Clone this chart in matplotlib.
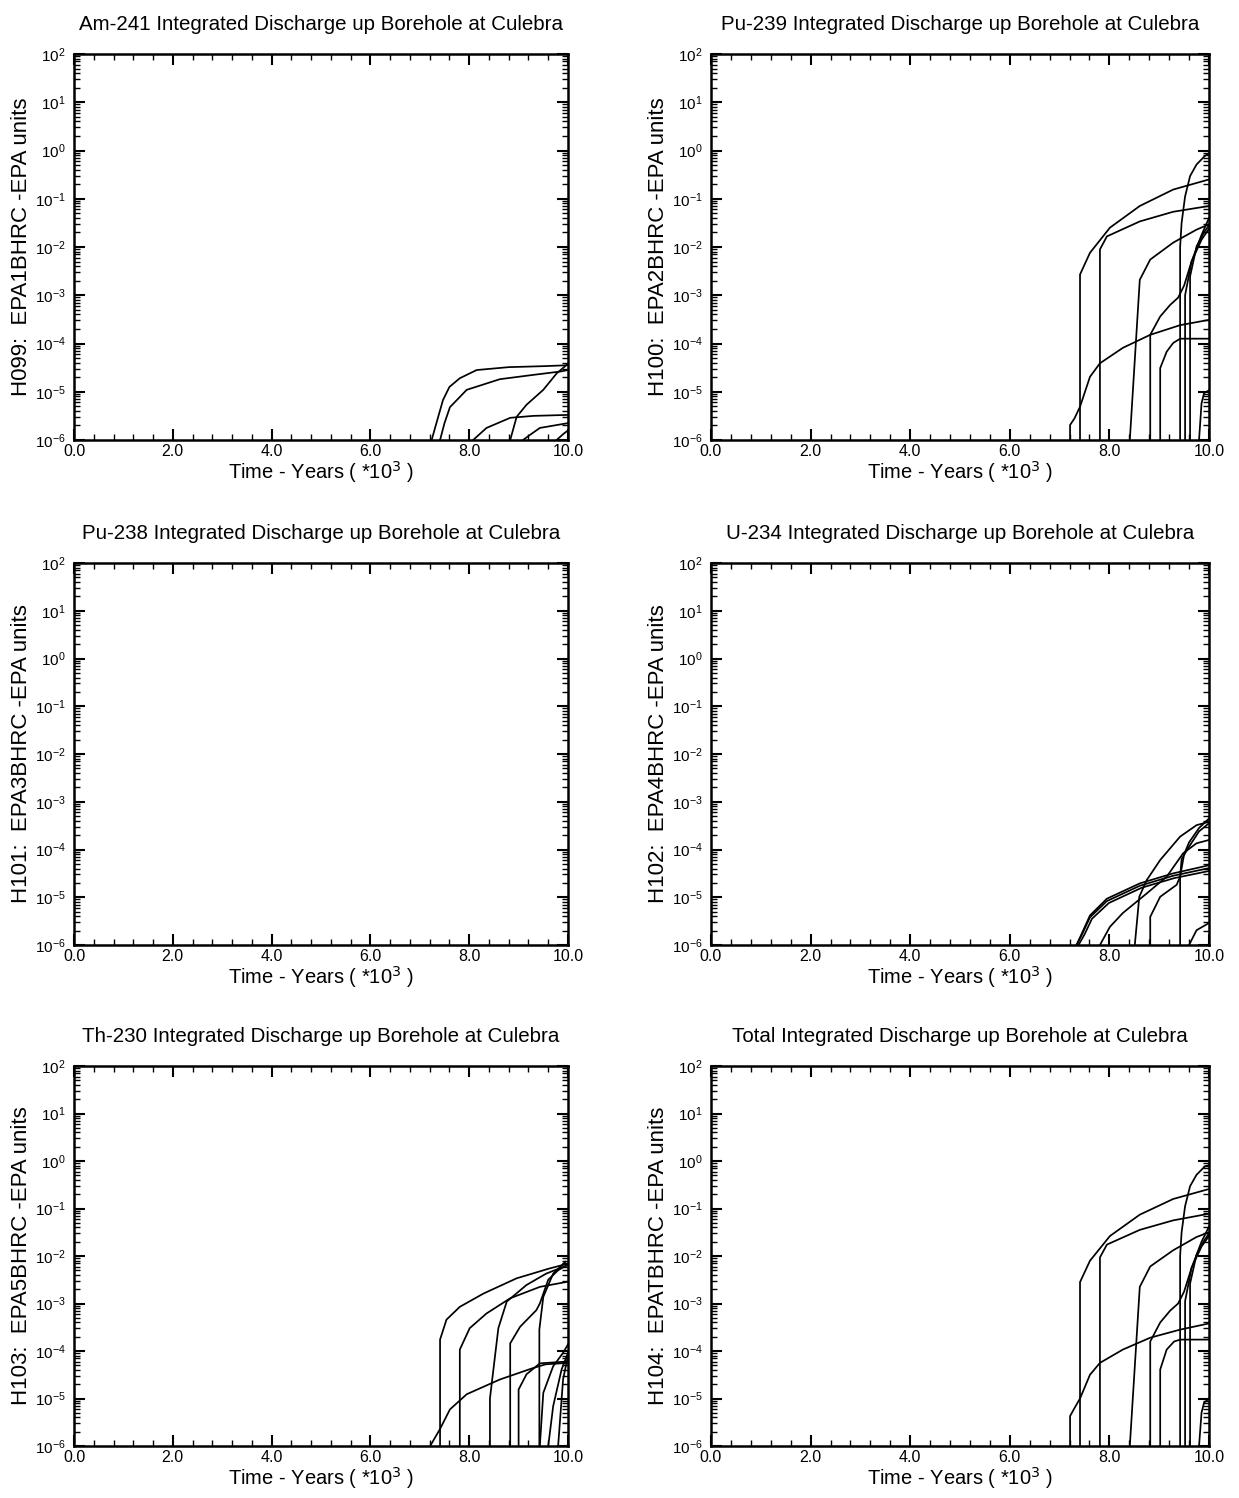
import numpy as np
import matplotlib
matplotlib.use("Agg")
import matplotlib.pyplot as plt
from matplotlib.ticker import MultipleLocator, LogLocator, FixedLocator, FixedFormatter, NullFormatter

plt.rcParams['font.family'] = ['Liberation Sans', 'DejaVu Sans']

# ---------------- data (time in 10^3 years, values as log10 of EPA units) ----------
am241_t = [
    [7.24, 7.35, 7.47, 7.6, 7.81, 8.15, 8.8, 9.5, 10.0],
    [7.41, 7.5, 7.61, 7.95, 8.62, 9.3, 9.85, 10.0],
    [8.83, 8.96, 9.16, 9.5, 9.77, 10.0],
    [8.08, 8.35, 8.83, 9.3, 10.0],
    [9.09, 9.25, 9.43, 10.0],
    [9.77, 9.9, 10.0],
]
am241_logy = [
    [-6, -5.6, -5.17, -4.9, -4.72, -4.55, -4.49, -4.47, -4.45],
    [-6, -5.65, -5.32, -4.96, -4.74, -4.65, -4.58, -4.55],
    [-6, -5.52, -5.27, -4.96, -4.62, -4.42],
    [-6, -5.75, -5.54, -5.5, -5.48],
    [-6, -5.88, -5.75, -5.65],
    [-6, -5.88, -5.8],
]

pu239_t = [
    [7.21, 7.21, 7.3, 7.41, 7.61, 7.81, 8.27, 8.82, 9.42, 10.0],
    [7.41, 7.41, 7.61, 8.01, 8.61, 9.28, 10.0],
    [7.81, 7.81, 7.95, 8.61, 9.28, 10.0],
    [8.41, 8.61, 8.82, 9.28, 9.75, 10.0],
    [8.82, 8.82, 9.02, 9.22, 9.38, 9.5, 9.65, 9.85, 10.0],
    [9.02, 9.02, 9.15, 9.28, 9.42, 10.0],
    [9.42, 9.42, 9.45, 9.52, 9.62, 9.75, 9.92, 10.0],
    [9.62, 9.62, 9.75, 9.9, 10.0],
    [9.52, 9.52, 9.65, 9.85, 10.0],
    [9.8, 9.85, 9.9, 10.0],
]
pu239_logy = [
    [-6, -5.69, -5.55, -5.31, -4.69, -4.41, -4.09, -3.82, -3.62, -3.51],
    [-6, -2.57, -2.12, -1.6, -1.15, -0.81, -0.6],
    [-6, -2.05, -1.78, -1.47, -1.27, -1.15],
    [-6, -2.68, -2.26, -1.91, -1.64, -1.53],
    [-6, -3.82, -3.44, -3.2, -3.05, -2.8, -2.3, -1.85, -1.62],
    [-6, -4.51, -4.17, -3.99, -3.9, -3.9],
    [-6, -2.0, -1.5, -0.95, -0.53, -0.29, -0.11, -0.06],
    [-6, -2.61, -1.99, -1.7, -1.55],
    [-6, -3.0, -2.3, -1.75, -1.4],
    [-6, -5.24, -5.03, -4.97],
]

pu238_t = []
pu238_logy = []

u234_t = [
    [7.34, 7.45, 7.61, 7.95, 8.61, 9.28, 10.0],
    [7.34, 7.45, 7.61, 7.95, 8.61, 9.28, 10.0],
    [7.38, 7.5, 7.65, 7.99, 8.65, 9.3, 10.0],
    [7.81, 8.01, 8.27, 8.75, 9.15, 9.48, 9.75, 10.0],
    [8.51, 8.6, 8.75, 9.02, 9.42, 9.75, 10.0],
    [8.82, 8.82, 9.02, 9.35, 9.42, 9.45, 9.6, 9.8, 10.0],
    [9.42, 9.42, 9.5, 9.6, 9.8, 10.0],
    [9.6, 9.75, 9.9, 10.0],
]
u234_logy = [
    [-6, -5.75, -5.38, -5.03, -4.71, -4.5, -4.33],
    [-6, -5.78, -5.42, -5.08, -4.76, -4.55, -4.39],
    [-6, -5.78, -5.45, -5.12, -4.8, -4.6, -4.45],
    [-6, -5.62, -5.33, -4.92, -4.57, -4.08, -3.87, -3.8],
    [-6, -4.99, -4.64, -4.22, -3.73, -3.49, -3.42],
    [-6, -5.41, -4.99, -4.74, -4.57, -4.2, -3.94, -3.62, -3.45],
    [-6, -4.57, -4.1, -3.85, -3.55, -3.35],
    [-6, -5.69, -5.6, -5.54],
]

th230_t = [
    [7.21, 7.41, 7.61, 7.95, 8.62, 9.29, 9.55, 10.0],
    [7.41, 7.41, 7.54, 7.81, 8.29, 8.96, 9.6, 10.0],
    [7.81, 7.81, 8.01, 8.35, 8.83, 9.43, 10.0],
    [8.42, 8.42, 8.59, 8.76, 9.16, 9.56, 10.0],
    [8.83, 8.83, 9.03, 9.36, 9.43, 9.6, 9.8, 10.0],
    [9.0, 9.0, 9.16, 9.43, 10.0],
    [9.42, 9.42, 9.5, 9.7, 9.95],
    [9.43, 9.5, 9.7, 9.9, 10.0],
    [9.6, 9.7, 9.87, 10.0],
    [9.8, 9.9, 10.0],
]
th230_logy = [
    [-6, -5.64, -5.23, -4.91, -4.6, -4.36, -4.28, -4.25],
    [-6, -3.76, -3.34, -3.07, -2.79, -2.47, -2.27, -2.16],
    [-6, -3.97, -3.52, -3.21, -2.89, -2.65, -2.54],
    [-6, -5.0, -3.52, -2.96, -2.61, -2.37, -2.19],
    [-6, -3.84, -3.49, -3.14, -3.0, -2.5, -2.3, -2.18],
    [-6, -4.81, -4.49, -4.26, -4.22],
    [-6, -3.55, -2.86, -2.37, -2.12],
    [-6, -4.88, -4.32, -4.04, -3.86],
    [-6, -5.16, -4.39, -4.04],
    [-6, -4.6, -4.1],
]

total_t = [
    [7.21, 7.21, 7.3, 7.41, 7.61, 7.81, 8.27, 8.82, 9.42, 10.0],
    [7.41, 7.41, 7.61, 8.01, 8.61, 9.28, 10.0],
    [7.81, 7.81, 7.95, 8.61, 9.28, 10.0],
    [8.41, 8.61, 8.82, 9.28, 9.75, 10.0],
    [8.82, 8.82, 9.02, 9.22, 9.38, 9.5, 9.65, 9.85, 10.0],
    [9.02, 9.02, 9.15, 9.3, 9.42, 10.0],
    [9.42, 9.42, 9.45, 9.52, 9.62, 9.75, 9.92, 10.0],
    [9.62, 9.62, 9.75, 9.9, 10.0],
    [9.52, 9.52, 9.65, 9.85, 10.0],
    [9.8, 9.85, 9.9, 10.0],
]
total_logy = [
    [-6, -5.37, -5.2, -5.0, -4.5, -4.25, -3.97, -3.72, -3.55, -3.42],
    [-6, -2.55, -2.1, -1.58, -1.13, -0.8, -0.59],
    [-6, -2.03, -1.76, -1.45, -1.25, -1.11],
    [-6, -2.65, -2.22, -1.88, -1.6, -1.5],
    [-6, -3.8, -3.4, -3.15, -3.0, -2.75, -2.25, -1.8, -1.58],
    [-6, -4.39, -3.97, -3.8, -3.76, -3.76],
    [-6, -2.0, -1.5, -0.95, -0.53, -0.29, -0.11, -0.09],
    [-6, -2.58, -1.97, -1.68, -1.52],
    [-6, -2.95, -2.25, -1.7, -1.38],
    [-6, -5.3, -5.09, -5.0],
]

titles = [
    "Am-241 Integrated Discharge up Borehole at Culebra",
    "Pu-239 Integrated Discharge up Borehole at Culebra",
    "Pu-238 Integrated Discharge up Borehole at Culebra",
    "U-234 Integrated Discharge up Borehole at Culebra",
    "Th-230 Integrated Discharge up Borehole at Culebra",
    "Total Integrated Discharge up Borehole at Culebra",
]
ylabels = [
    "H099:  EPA1BHRC -EPA units",
    "H100:  EPA2BHRC -EPA units",
    "H101:  EPA3BHRC -EPA units",
    "H102:  EPA4BHRC -EPA units",
    "H103:  EPA5BHRC -EPA units",
    "H104:  EPATBHRC -EPA units",
]
xtick_values = [0.0, 2.0, 4.0, 6.0, 8.0, 10.0]
xtick_labels = ["0.0", "2.0", "4.0", "6.0", "8.0", "10.0"]

panels = [
    (am241_t, am241_logy), (pu239_t, pu239_logy),
    (pu238_t, pu238_logy), (u234_t, u234_logy),
    (th230_t, th230_logy), (total_t, total_logy),
]

# ---------------- layout ----------------
W, H = 1239, 1498
fig = plt.figure(figsize=(W / 100, H / 100), dpi=100)

col_x = [(74, 568), (711, 1209)]
row_y = [(54, 440), (563, 945), (1066, 1446)]

for i, (ts, ys) in enumerate(panels):
    r, c = divmod(i, 2)
    x0, x1 = col_x[c]
    y0, y1 = row_y[r]
    ax = fig.add_axes([x0 / W, 1 - y1 / H, (x1 - x0) / W, (y1 - y0) / H])
    for t, ly in zip(ts, ys):
        ax.plot(t, 10.0 ** np.array(ly), color='black', lw=1.25,
                solid_joinstyle='round', clip_on=True)
    ax.set_yscale('log')
    ax.set_xlim(0, 10)
    ax.set_ylim(1e-6, 1e2)
    ax.yaxis.set_major_locator(LogLocator(base=10, numticks=20))
    ax.yaxis.set_minor_locator(LogLocator(base=10, subs=np.arange(2, 10), numticks=20))
    ax.yaxis.set_minor_formatter(NullFormatter())
    ax.xaxis.set_major_locator(FixedLocator(xtick_values))
    ax.xaxis.set_major_formatter(FixedFormatter(xtick_labels))
    ax.xaxis.set_minor_locator(MultipleLocator(0.4))
    ax.xaxis.set_minor_formatter(NullFormatter())
    ax.tick_params(which='both', direction='in', top=True, right=True, colors='black')
    ax.tick_params(which='major', length=8, width=1.5)
    ax.tick_params(axis='x', which='major', pad=3, labelsize=11.5)
    ax.tick_params(axis='y', which='major', pad=6, labelsize=11)
    ax.tick_params(which='minor', length=4, width=1.0)
    for s in ax.spines.values():
        s.set_linewidth(1.8)
    ax.set_title(titles[i], fontsize=14.8, pad=17)
    ax.set_xlabel("Time - Years ( *10$^3$ )", fontsize=14.5, labelpad=0)
    ax.set_ylabel(ylabels[i], fontsize=16, labelpad=2)

fig.savefig("out.png", dpi=100, facecolor='white')
